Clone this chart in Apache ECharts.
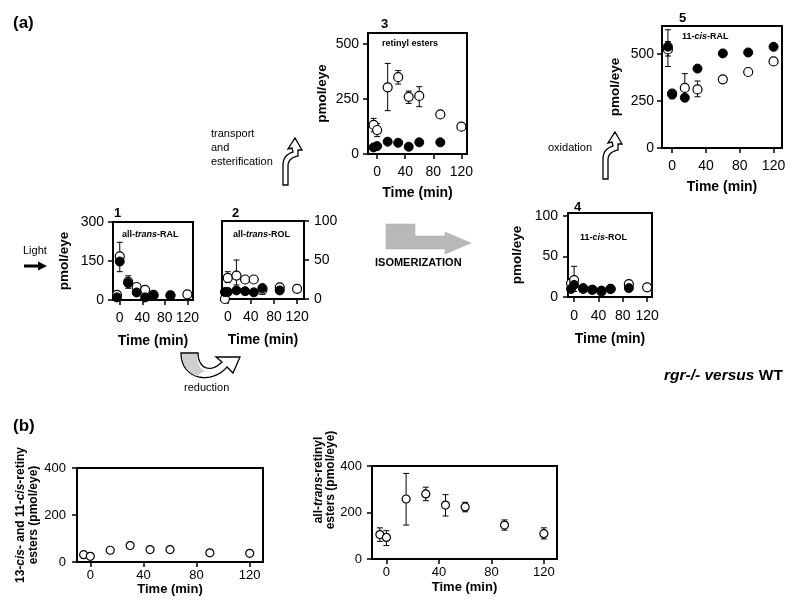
<!DOCTYPE html>
<html><head><meta charset="utf-8">
<script src="https://cdn.jsdelivr.net/npm/echarts@6/dist/echarts.min.js"></script>
<style>html,body{margin:0;padding:0;background:#fff}#c{width:800px;height:607px}</style>
</head><body><div id="c"></div>
<script>
// ---------- data ----------
const times = [-5, 0, 15, 30, 45, 60, 90, 120];
const xTicks = [0, 40, 80, 120];

// Panel 1: all-trans-RAL
const ralOpen   = [20, 168, 70, 50, 39, 20, 18, 22];
const ralFilled = [10, 148, 65, 29, 10, 17, 17, null];
const ralErr    = [[0, 109, 222], [15, 45, 93]];
const ralTicks  = [0, 150, 300];

// Panel 2: all-trans-ROL
const rolOpen   = [0, 27, 30, 25, 25, 12, 15, 13];
const rolFilled = [9, 9, 11, 10, 8.5, 14, 11, null];
const rolErr    = [[0, 21, 35], [15, 18, 50], [60, 6, 14]];
const rolTicks  = [0, 50, 100];

// Panel 3: retinyl esters
const estOpen   = [132, 109, 303, 349, 260, 264, 180, 124];
const estFilled = [30, 36, 56, 51, 33, 53, 53, null];
const estErr    = [[-5, 101, 162], [0, 79, 139], [15, 197, 412], [30, 318, 379], [45, 230, 286], [60, 215, 306]];
const estTicks  = [0, 250, 500];

// Panel 4: 11-cis-ROL
const cisRolOpen   = [17, 21, 10, 9, 7, 10, 16, 12];
const cisRolFilled = [10, 15, 11, 9, 8, 10, 11, null];
const cisRolErr    = [[0, 7, 38], [15, 8, 15], [45, 3, 9]];
const cisRolTicks  = [0, 50, 100];

// Panel 5: 11-cis-RAL
const cisRalOpen   = [525, 290, 320, 312, null, 366, 405, 461];
const cisRalFilled = [540, 286, 268, 423, null, 504, 509, 539];
const cisRalErr    = [[-5, 434, 630], [-5, 490, 567], [0, 262, 304], [15, 255, 396], [30, 273, 357]];
const cisRalTicks  = [0, 250, 500];

// Panel b-left: 13-cis and 11-cis retinyl esters
const bCisEst = [31, 24, 50, 70, 53, 53, 39, 37];
// Panel b-right: all-trans retinyl esters
const bTransEst  = [105, 93, 258, 280, 232, 224, 146, 109];
const bTransLow  = [76, 58, 146, 251, 185, 203, 124, 86];
const bTransHigh = [134, 122, 368, 309, 277, 244, 168, 134];
const bTicks = [0, 200, 400];

// ---------- build ----------
const F = '"Liberation Sans", Arial, Helvetica, sans-serif';
const grids = [], xAxes = [], yAxes = [], series = [];

function pts(vals) {
  const out = [];
  vals.forEach((v, i) => { if (v != null) out.push([times[i], v]); });
  return out;
}
function errRender(params, api) {
  const x = api.value(0), lo = api.value(1), hi = api.value(2);
  const a = api.coord([x, lo]), b = api.coord([x, hi]);
  const w = 3;
  const st = {stroke: '#000', lineWidth: 1};
  return {type: 'group', children: [
    {type: 'line', shape: {x1: a[0], y1: a[1], x2: b[0], y2: b[1]}, style: st},
    {type: 'line', shape: {x1: a[0] - w, y1: a[1], x2: a[0] + w, y2: a[1]}, style: st},
    {type: 'line', shape: {x1: b[0] - w, y1: b[1], x2: b[0] + w, y2: b[1]}, style: st}
  ]};
}

function addPanel(c) {
  const gi = grids.length;
  grids.push({left: c.box[0], top: c.box[1], width: c.box[2], height: c.box[3], show: true,
    borderColor: '#000', borderWidth: 2, backgroundColor: 'rgba(0,0,0,0)'});
  xAxes.push({gridIndex: gi, type: 'value', min: c.x[0], max: c.x[1], position: 'bottom',
    axisLine: {show: true, onZero: false, lineStyle: {color: '#000', width: 2}},
    axisTick: {show: true, customValues: xTicks, length: 5, lineStyle: {color: '#000', width: 1.5}},
    axisLabel: {show: true, customValues: xTicks, color: '#000', fontFamily: F, fontSize: c.lfs, margin: c.xm},
    splitLine: {show: false},
    name: 'Time (min)', nameLocation: 'middle', nameGap: c.xg,
    nameTextStyle: {color: '#000', fontFamily: F, fontWeight: 'bold', fontSize: c.xnfs}});
  yAxes.push({gridIndex: gi, type: 'value', min: c.y[0], max: c.y[1], position: c.yPos || 'left',
    axisLine: {show: true, onZero: false, lineStyle: {color: '#000', width: 2}},
    axisTick: {show: true, customValues: c.yTicks, length: 5, lineStyle: {color: '#000', width: 1.5}},
    axisLabel: {show: true, customValues: c.yTicks, color: '#000', fontFamily: F, fontSize: c.lfs, margin: c.ym},
    splitLine: {show: false},
    name: c.yName || '', nameLocation: 'middle', nameGap: c.yg || 40,
    nameTextStyle: {color: '#000', fontFamily: F, fontWeight: 'bold', fontSize: c.ynfs || 13.5,
      lineHeight: c.ylh || 16, rich: {i: {fontStyle: 'italic', fontWeight: 'bold', fontFamily: F, fontSize: c.ynfs || 13.5}}}});
  const sz = c.sym || 9;
  if (c.err && c.err.length) {
    series.push({type: 'custom', xAxisIndex: gi, yAxisIndex: gi, data: c.err, renderItem: errRender,
      encode: {x: 0, y: [1, 2]}, z: 1, silent: true});
  }
  if (c.open) {
    series.push({type: 'scatter', xAxisIndex: gi, yAxisIndex: gi, data: pts(c.open), symbol: 'circle', symbolSize: sz,
      itemStyle: {color: '#fff', borderColor: '#000', borderWidth: 1.2, opacity: 1}, z: 2, silent: true});
  }
  if (c.filled) {
    series.push({type: 'scatter', xAxisIndex: gi, yAxisIndex: gi, data: pts(c.filled), symbol: 'circle', symbolSize: sz,
      itemStyle: {color: '#000', borderColor: '#000', borderWidth: 1, opacity: 1}, z: 3, silent: true});
  }
}

// (a) panels
addPanel({box: [113, 222, 80, 78], x: [-12, 130], y: [0, 300], yTicks: ralTicks, lfs: 14, xm: 11, ym: 9, xg: 34, xnfs: 14,
  yName: 'pmol/eye', yg: 41, open: ralOpen, filled: ralFilled, err: ralErr});
addPanel({box: [222, 221, 82, 78], x: [-10, 132], y: [0, 100], yTicks: rolTicks, yPos: 'right', lfs: 14, xm: 11, ym: 10, xg: 34, xnfs: 14,
  open: rolOpen, filled: rolFilled, err: rolErr});
addPanel({box: [368, 33, 99, 121], x: [-13, 128], y: [0, 550], yTicks: estTicks, lfs: 14, xm: 11, ym: 9, xg: 32, xnfs: 14,
  yName: 'pmol/eye', yg: 38, open: estOpen, filled: estFilled, err: estErr});
addPanel({box: [568, 213, 84, 84], x: [-10, 128], y: [0, 104], yTicks: cisRolTicks, lfs: 14, xm: 12, ym: 10, xg: 35, xnfs: 14,
  yName: 'pmol/eye', yg: 43, open: cisRolOpen, filled: cisRolFilled, err: cisRolErr});
addPanel({box: [662, 26, 120, 122], x: [-12, 130], y: [0, 650], yTicks: cisRalTicks, lfs: 14, xm: 11, ym: 8, xg: 32, xnfs: 14,
  yName: 'pmol/eye', yg: 39, open: cisRalOpen, filled: cisRalFilled, err: cisRalErr});
// (b) panels
addPanel({box: [77, 468, 186, 94], x: [-10, 130], y: [0, 400], yTicks: bTicks, lfs: 13, xm: 7, ym: 11, xg: 21, xnfs: 13,
  yName: '13-{i|cis}- and 11-{i|cis}-retiny\nesters (pmol/eye)', yg: 34, ynfs: 12, ylh: 13, sym: 8, open: bCisEst});
addPanel({box: [372, 466, 185, 93], x: [-11, 130], y: [0, 400], yTicks: bTicks, lfs: 13, xm: 7, ym: 10, xg: 22, xnfs: 13,
  sym: 8, open: bTransEst, err: times.map((t, i) => [t, bTransLow[i], bTransHigh[i]])});

// ---------- annotation shapes (sampled into polygons) ----------
function quad(p0, c, p1, n) { const o = []; for (let k = 1; k <= n; k++) { const t = k / n, u = 1 - t;
  o.push([u*u*p0[0] + 2*u*t*c[0] + t*t*p1[0], u*u*p0[1] + 2*u*t*c[1] + t*t*p1[1]]); } return o; }
function cub(p0, c1, c2, p1, n) { const o = []; for (let k = 1; k <= n; k++) { const t = k / n, u = 1 - t;
  o.push([u*u*u*p0[0] + 3*u*u*t*c1[0] + 3*u*t*t*c2[0] + t*t*t*p1[0], u*u*u*p0[1] + 3*u*u*t*c1[1] + 3*u*t*t*c2[1] + t*t*t*p1[1]]); } return o; }
function shift(ptsArr, dx, dy) { return ptsArr.map(p => [p[0] + dx, p[1] + dy]); }

const hookArrow = [[0, 47], [0, 27]].concat(quad([0, 27], [0, 17], [10, 14], 10),
  [[9, 10], [5, 11], [12, 0], [19, 12], [15, 12], [15, 18]], quad([15, 18], [5, 20], [5, 28], 10), [[5, 47]]);
const reductionArrow = [[181, 353], [198, 353]].concat(cub([198, 353], [198, 368], [210, 374], [222, 362], 14),
  [[216, 357], [240, 357], [233, 373], [227, 367]], cub([227, 367], [212, 385], [181, 380], [181, 353], 16));
const reductionShade = [[182, 354], [197, 354]].concat(cub([197, 354], [197, 364], [200, 369], [205, 371], 8),
  [[196, 376]], cub([196, 376], [187, 372], [182, 364], [182, 354], 8));

// ---------- annotations ----------
const T = (x, y, text, fs, opt) => Object.assign({type: 'text', x: x, y: y, silent: true,
  style: Object.assign({text: text, fontFamily: F, fontSize: fs, fill: '#000', verticalAlign: 'middle',
    rich: {i: {fontStyle: 'italic', fontWeight: 'bold', fontSize: fs, fontFamily: F}}}, opt || {})});
const B = {fontWeight: 'bold'};

const graphics = [
  T(13, 23, '(a)', 17, B),
  T(13, 426, '(b)', 17, B),
  T(114, 213, '1', 13, B),
  T(232, 213, '2', 13, B),
  T(381, 24, '3', 13, B),
  T(574, 207, '4', 13, B),
  T(679, 18, '5', 13, B),
  T(122, 235, 'all-{i|trans}-RAL', 9, B),
  T(233, 235, 'all-{i|trans}-ROL', 9, B),
  T(382, 44, 'retinyl esters', 9, B),
  T(682, 37, '11-{i|cis}-RAL', 9, B),
  T(580, 238, '11-{i|cis}-ROL', 9, B),
  T(211, 134, 'transport', 11),
  T(211, 148, 'and', 11),
  T(211, 162, 'esterification', 11),
  T(548, 148, 'oxidation', 11),
  T(23, 251, 'Light', 11),
  T(375, 263, 'ISOMERIZATION', 11, B),
  T(184, 388, 'reduction', 11),
  T(664, 376, '{i|rgr-/- versus} WT', 15.5, B),
  {type: 'text', x: 325, y: 480, rotation: Math.PI / 2, silent: true,
    style: {text: 'all-{i|trans}-retinyl\nesters (pmol/eye)', fontFamily: F, fontSize: 12, fontWeight: 'bold', lineHeight: 12,
      align: 'center', verticalAlign: 'middle', fill: '#000',
      rich: {i: {fontStyle: 'italic', fontWeight: 'bold', fontSize: 12, fontFamily: F}}}},
  {type: 'polygon', silent: true, shape: {points: shift(hookArrow, 283, 138)}, style: {fill: '#fff', stroke: '#000', lineWidth: 1.3}},
  {type: 'polygon', silent: true, shape: {points: shift(hookArrow, 603, 132)}, style: {fill: '#fff', stroke: '#000', lineWidth: 1.3}},
  {type: 'line', silent: true, shape: {x1: 24, y1: 266, x2: 40, y2: 266}, style: {stroke: '#000', lineWidth: 3}},
  {type: 'polygon', silent: true, shape: {points: [[38, 261.5], [47, 266], [38, 270.5]]}, style: {fill: '#000'}},
  {type: 'polygon', silent: true, shape: {points: [[386, 224], [415, 224], [415, 236], [445, 236], [445, 232], [471, 243], [445, 254], [445, 249], [386, 249]]},
    style: {fill: '#b8b8b8', stroke: '#a8a8a8', lineWidth: 0.5}},
  {type: 'polygon', silent: true, shape: {points: reductionArrow}, style: {fill: '#fff', stroke: '#000', lineWidth: 1.3}},
  {type: 'polygon', silent: true, shape: {points: reductionShade}, style: {fill: '#cfcfcf'}}
];

const chart = echarts.init(document.getElementById('c'), null, {renderer: 'canvas'});
chart.setOption({
  animation: false,
  backgroundColor: '#fff',
  grid: grids,
  xAxis: xAxes,
  yAxis: yAxes,
  series: series,
  graphic: graphics
});
</script>
</body></html>
